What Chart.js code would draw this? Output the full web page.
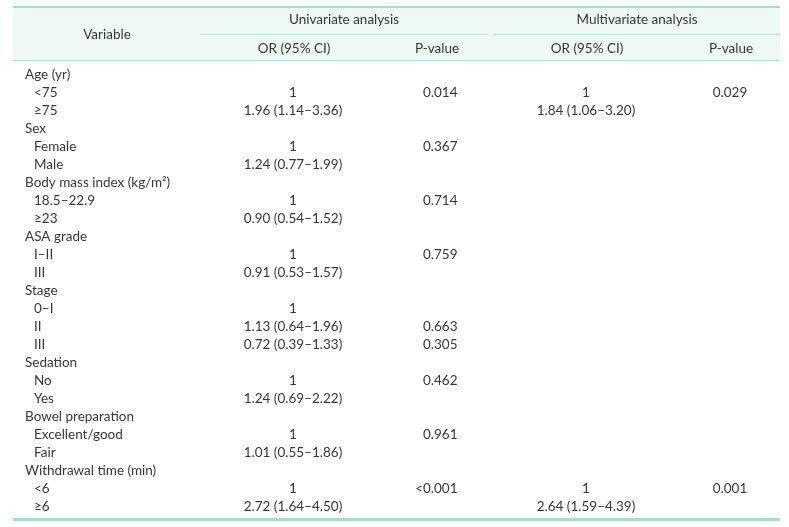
<!DOCTYPE html>
<html>
<head>
<meta charset="utf-8">
<script src="https://cdn.jsdelivr.net/npm/chart.js@4.4.1/dist/chart.umd.min.js"></script>
<style>
  body { margin: 0; background: #fff; }
  #wrap { width: 789px; height: 527px; position: relative; }
</style>
</head>
<body>
<div id="wrap"><canvas id="table"></canvas></div>
<script>
// row labels, level 0 = variable, 1 = category
var rowLabels = ['Age (yr)', '<75', '\u226575', 'Sex', 'Female', 'Male',
  'Body mass index (kg/m\u00b2)', '18.5\u201322.9', '\u226523', 'ASA grade', 'I\u2013II', 'III',
  'Stage', '0\u2013I', 'II', 'III', 'Sedation', 'No', 'Yes',
  'Bowel preparation', 'Excellent/good', 'Fair', 'Withdrawal time (min)', '<6', '\u22656'];
var rowLevels = [0,1,1, 0,1,1, 0,1,1, 0,1,1, 0,1,1,1, 0,1,1, 0,1,1, 0,1,1];

// univariate analysis
var uniOR = ['', '1', '1.96 (1.14\u20133.36)', '', '1', '1.24 (0.77\u20131.99)',
  '', '1', '0.90 (0.54\u20131.52)', '', '1', '0.91 (0.53\u20131.57)',
  '', '1', '1.13 (0.64\u20131.96)', '0.72 (0.39\u20131.33)', '', '1', '1.24 (0.69\u20132.22)',
  '', '1', '1.01 (0.55\u20131.86)', '', '1', '2.72 (1.64\u20134.50)'];
var uniP = ['', '0.014', '', '', '0.367', '', '', '0.714', '', '', '0.759', '',
  '', '', '0.663', '0.305', '', '0.462', '', '', '0.961', '', '', '<0.001', ''];

// multivariate analysis
var multiOR = ['', '1', '1.84 (1.06\u20133.20)', '', '', '', '', '', '', '', '', '',
  '', '', '', '', '', '', '', '', '', '', '', '1', '2.64 (1.59\u20134.39)'];
var multiP = ['', '0.029', '', '', '', '', '', '', '', '', '', '',
  '', '', '', '', '', '', '', '', '', '', '', '0.001', ''];

// header texts
var groupHeaders = ['Univariate analysis', 'Multivariate analysis'];
var subHeaders = ['OR (95% CI)', 'P-value', 'OR (95% CI)', 'P-value'];

var FONT = '13.5px Lato';
var TEXT = '#383838';

var tablePlugin = {
  id: 'tablePlugin',
  beforeDraw: function(chart) {
    var ctx = chart.ctx;
    var x = chart.scales.x;
    var L = x.getPixelForValue(13), R = x.getPixelForValue(780);
    ctx.save();
    // header band
    ctx.fillStyle = '#eef8f5';
    ctx.fillRect(L, 8, R - L, 53);
    // top border
    ctx.fillStyle = '#a6dccb';
    ctx.fillRect(L, 6, R - L, 2);
    // group underlines
    ctx.fillStyle = '#bfe5d9';
    ctx.fillRect(x.getPixelForValue(200), 34, x.getPixelForValue(488) - x.getPixelForValue(200), 1);
    ctx.fillRect(x.getPixelForValue(493), 34, R - x.getPixelForValue(493), 1);
    // header bottom line
    ctx.fillStyle = '#b4e0d3';
    ctx.fillRect(L, 60, R - L, 1);
    // bottom border
    ctx.fillStyle = '#a6dccb';
    ctx.fillRect(L, 518, R - L, 3);
    ctx.restore();
  },
  afterDraw: function(chart) {
    var ctx = chart.ctx;
    var x = chart.scales.x, y = chart.scales.y;
    ctx.save();
    ctx.font = FONT;
    ctx.fillStyle = TEXT;
    ctx.textBaseline = 'middle';

    // headers
    ctx.textAlign = 'center';
    ctx.fillText('Variable', x.getPixelForValue(107), 35);
    ctx.fillText(groupHeaders[0], x.getPixelForValue(344), 20);
    ctx.fillText(groupHeaders[1], x.getPixelForValue(637), 20);
    ctx.fillText(subHeaders[0], x.getPixelForValue(294), 49);
    ctx.fillText(subHeaders[1], x.getPixelForValue(437), 49);
    ctx.fillText(subHeaders[2], x.getPixelForValue(587), 49);
    ctx.fillText(subHeaders[3], x.getPixelForValue(731), 49);

    // body cells
    rowLabels.forEach(function(lab, i) {
      var py = y.getPixelForValue(i);
      ctx.textAlign = 'left';
      ctx.fillText(lab, x.getPixelForValue(rowLevels[i] ? 34 : 25), py);
      ctx.textAlign = 'center';
      if (uniOR[i]) ctx.fillText(uniOR[i], x.getPixelForValue(293), py);
      if (multiOR[i]) ctx.fillText(multiOR[i], x.getPixelForValue(586), py);
      if (multiP[i]) ctx.fillText(multiP[i], x.getPixelForValue(730), py);
      ctx.textAlign = 'right';
      if (uniP[i]) ctx.fillText(uniP[i], x.getPixelForValue(457.5), py);
    });
    ctx.restore();
  }
};

new Chart(document.getElementById('table'), {
  type: 'scatter',
  data: {
    labels: rowLabels,
    datasets: [{ data: [], pointRadius: 0 }]
  },
  options: {
    responsive: true,
    maintainAspectRatio: false,
    animation: false,
    events: [],
    layout: { padding: { top: 75, bottom: 20, left: 0, right: 0 } },
    plugins: { legend: { display: false }, tooltip: { enabled: false } },
    scales: {
      x: { type: 'linear', min: 0, max: 789, display: false },
      y: { type: 'category', labels: rowLabels, offset: false, display: false }
    }
  },
  plugins: [tablePlugin]
});
</script>
</body>
</html>
